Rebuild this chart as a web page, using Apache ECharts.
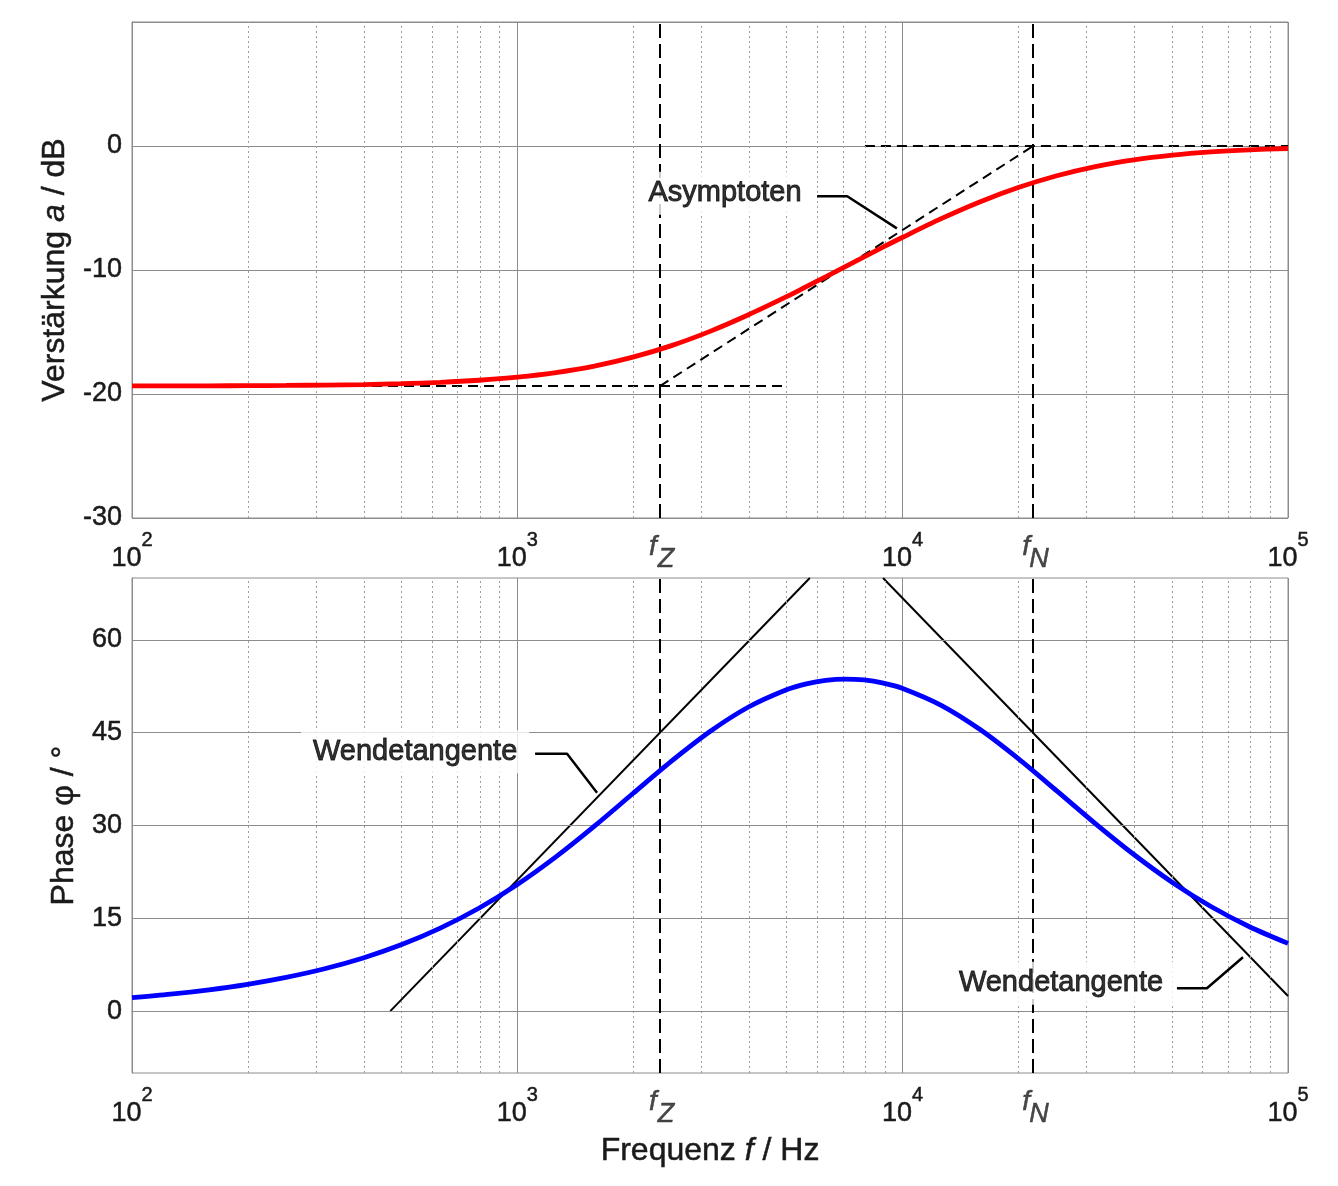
<!DOCTYPE html>
<html><head><meta charset="utf-8">
<script src="https://cdn.jsdelivr.net/npm/echarts@6/dist/echarts.min.js"></script>
<style>html,body{margin:0;padding:0;background:#fff}#c{width:1338px;height:1186px}</style>
</head><body><div id="c"></div>
<script>
// ---------- data ----------
const FREQ = [100, 125.9, 158.5, 199.5, 251.2, 316.2, 398.1, 501.2, 631.0, 794.3,
  1000, 1259, 1585, 1995, 2512, 3162, 3981, 5012, 5623, 6310, 7079, 7943, 8913,
  10000, 12589, 15849, 19953, 25119, 31623, 39811, 50119, 63096, 79433, 100000];
const GAIN_DB = [-19.35, -19.35, -19.34, -19.33, -19.31, -19.28, -19.24, -19.17, -19.06, -18.89,
  -18.64, -18.27, -17.75, -17.03, -16.10, -14.95, -13.61, -12.13, -11.34, -10.55, -9.74, -8.94, -8.14,
  -7.36, -5.86, -4.51, -3.35, -2.40, -1.66, -1.12, -0.74, -0.48, -0.31, -0.20];
const PHASE_DEG = [2.18, 2.74, 3.45, 4.34, 5.46, 6.85, 8.59, 10.75, 13.41, 16.63,
  20.47, 24.93, 29.90, 35.17, 40.40, 45.19, 49.15, 51.98, 52.89, 53.46, 53.67, 53.52, 53.00,
  52.15, 49.42, 45.54, 40.80, 35.59, 30.31, 25.31, 20.80, 16.91, 13.64, 10.95];

const F_Z = 2345;
const F_N = 21800;
const CORNER_FREQS = [F_Z, F_N];
const CORNER_NAMES = ['Z', 'N'];

const ASYM_LOW = [[100, -19.36], [5000, -19.36]];
const ASYM_SLOPE = [[2345, -19.36], [21800, 0]];
const ASYM_HIGH = [[7980, 0], [100000, 0]];

const TANGENT_RISE = [[468, 0], [5741, 70]];
const TANGENT_FALL = [[8892, 70], [100000, 2.44]];

const X_MINOR = [200, 300, 400, 500, 600, 700, 800, 900,
  2000, 3000, 4000, 5000, 6000, 7000, 8000, 9000,
  20000, 30000, 40000, 50000, 60000, 70000, 80000, 90000];
const GAIN_RANGE = [-30, 10];
const PHASE_RANGE = [-10, 70];
const PHASE_TICKS = [0, 15, 30, 45, 60];

const ANN_ASYM_TEXT = 'Asymptoten';
const ANN_ASYM_AT = [3460, -3.97];
const ANN_ASYM_LEADER = [[5998, -4.05], [7180, -4.05], [9660, -6.64]];
const ANN_TAN1_TEXT = 'Wendetangente';
const ANN_TAN1_AT = [543, 41.6];
const ANN_TAN1_LEADER = [[1112, 41.6], [1346, 41.6], [1610, 35.3]];
const ANN_TAN2_TEXT = 'Wendetangente';
const ANN_TAN2_AT = [25760, 4.19];
const ANN_TAN2_LEADER = [[51500, 3.7], [61600, 3.7], [76400, 8.7]];

// ---------- styling ----------
const FONT = '"Liberation Sans", Arial, Helvetica, sans-serif';
const TXT = '#1a1a1a';
const GRID_COL = '#8c8c8c';
const MINOR_COL = '#9e9e9e';
const HIDDEN = 'rgba(0,0,0,0)';
const BOLDEN = { textBorderColor: TXT, textBorderWidth: 0.5 };

const chart = echarts.init(document.getElementById('c'));

function txt(size, extra) {
  return Object.assign({ fontSize: size, fontFamily: FONT, color: TXT }, BOLDEN, extra || {});
}

function xAxisCfg(gridIndex, withName) {
  const cfg = {
    type: 'log', logBase: 10, gridIndex: gridIndex, min: 100, max: 100000,
    axisLine: { show: true, lineStyle: { color: GRID_COL, width: 1 } },
    axisTick: { show: false },
    splitLine: { show: true, lineStyle: { color: GRID_COL, width: 1 } },
    axisLabel: {
      show: true, margin: 12, showMinLabel: true, showMaxLabel: true,
      formatter: function (v) { return '{b|10}{s|' + Math.round(Math.log10(v)) + '}'; },
      rich: {
        b: txt(27, { lineHeight: 42, verticalAlign: 'bottom' }),
        s: txt(20, { lineHeight: 22, verticalAlign: 'top' })
      }
    }
  };
  if (withName) {
    cfg.name = 'Frequenz {i|f} / Hz';
    cfg.nameLocation = 'middle';
    cfg.nameGap = 62;
    cfg.nameTextStyle = txt(32, { rich: { i: txt(32, { fontStyle: 'italic' }) } });
  }
  return cfg;
}

const noMarkLine = { symbol: ['none', 'none'], silent: true, animation: false, label: { show: false }, emphasis: { disabled: true } };

function vLines(gridIdx, values, style, z) {
  return {
    type: 'line', xAxisIndex: gridIdx, yAxisIndex: gridIdx, data: [], z: z, silent: true,
    markLine: Object.assign({}, noMarkLine, { lineStyle: style, data: values.map(v => ({ xAxis: v })) })
  };
}

function textSeries(gridIdx, points, labelCfg, z) {
  return {
    type: 'scatter', xAxisIndex: gridIdx, yAxisIndex: gridIdx, z: z, silent: true,
    symbol: 'circle', symbolSize: 1, itemStyle: { color: HIDDEN },
    emphasis: { disabled: true },
    data: points,
    label: Object.assign({ show: true, fontFamily: FONT, color: TXT }, BOLDEN, labelCfg)
  };
}

function cornerLabels(gridIdx, yVal) {
  const pts = CORNER_FREQS.map((f, i) => ({ value: [f, yVal], name: CORNER_NAMES[i] }));
  return [
    textSeries(gridIdx, pts, { position: 'bottom', distance: 15, offset: [-7, 0], formatter: 'f', fontSize: 28, fontStyle: 'italic' }, 10),
    textSeries(gridIdx, pts, { position: 'bottom', distance: 15, offset: [6, 12], formatter: p => p.name, fontSize: 27, fontStyle: 'italic' }, 10)
  ];
}

function annotation(gridIdx, text, at, leader) {
  const common = { position: 'bottom', distance: 0, offset: [0, -24], formatter: text, fontSize: 29 };
  return [
    // white backing box
    textSeries(gridIdx, [at], Object.assign({}, common, {
      color: '#ffffff', textBorderWidth: 0, backgroundColor: '#ffffff', padding: [7, 12]
    }), 19),
    // the text itself
    textSeries(gridIdx, [at], Object.assign({}, common, {
      offset: [0, -17], color: '#000000', textBorderColor: '#000000', textBorderWidth: 0.9
    }), 20),
    {
      type: 'line', xAxisIndex: gridIdx, yAxisIndex: gridIdx, z: 21, silent: true,
      data: leader, symbol: 'none', lineStyle: { color: '#000', width: 2.5 }
    }
  ];
}

function lineSeries(gridIdx, data, color, width, type, z) {
  return {
    type: 'line', xAxisIndex: gridIdx, yAxisIndex: gridIdx, data: data, z: z, silent: true,
    symbol: 'none', lineStyle: { color: color, width: width, type: type }
  };
}

const gainData = FREQ.map((f, i) => [f, GAIN_DB[i]]);
const phaseData = FREQ.map((f, i) => [f, PHASE_DEG[i]]);

const series = [
  // top panel
  vLines(0, X_MINOR, { color: MINOR_COL, width: 1, type: [2, 3] }, 1),
  vLines(0, CORNER_FREQS, { color: '#000', width: 2, type: [14, 6] }, 3),
  lineSeries(0, ASYM_LOW, '#000', 2, [10, 6], 3),
  lineSeries(0, ASYM_SLOPE, '#000', 2, [10, 6], 3),
  lineSeries(0, ASYM_HIGH, '#000', 2, [10, 6], 3),
  Object.assign(lineSeries(0, gainData, '#ff0000', 4.8, 'solid', 5), { smooth: 0.3 }),
  ...cornerLabels(0, GAIN_RANGE[0]),
  ...annotation(0, ANN_ASYM_TEXT, ANN_ASYM_AT, ANN_ASYM_LEADER),
  // bottom panel
  vLines(1, X_MINOR, { color: MINOR_COL, width: 1, type: [2, 3] }, 1),
  {
    type: 'line', xAxisIndex: 1, yAxisIndex: 1, data: [], z: 1, silent: true,
    markLine: Object.assign({}, noMarkLine, { lineStyle: { color: GRID_COL, width: 1, type: 'solid' }, data: PHASE_TICKS.map(v => ({ yAxis: v })) })
  },
  vLines(1, CORNER_FREQS, { color: '#000', width: 2, type: [14, 6] }, 3),
  lineSeries(1, TANGENT_RISE, '#000', 2, 'solid', 4),
  lineSeries(1, TANGENT_FALL, '#000', 2, 'solid', 4),
  Object.assign(lineSeries(1, phaseData, '#0000ff', 4.8, 'solid', 5), { smooth: 0.3 }),
  ...cornerLabels(1, PHASE_RANGE[0]),
  ...annotation(1, ANN_TAN1_TEXT, ANN_TAN1_AT, ANN_TAN1_LEADER),
  ...annotation(1, ANN_TAN2_TEXT, ANN_TAN2_AT, ANN_TAN2_LEADER)
];

chart.setOption({
  animation: false,
  backgroundColor: '#ffffff',
  textStyle: { fontFamily: FONT },
  grid: [
    { left: 132, top: 22, width: 1156, height: 496, show: true, borderColor: GRID_COL, borderWidth: 1, backgroundColor: 'transparent' },
    { left: 132, top: 578, width: 1156, height: 495, show: true, borderColor: GRID_COL, borderWidth: 1, backgroundColor: 'transparent' }
  ],
  xAxis: [xAxisCfg(0, false), xAxisCfg(1, true)],
  yAxis: [{
    type: 'value', gridIndex: 0, min: GAIN_RANGE[0], max: GAIN_RANGE[1], interval: 10,
    axisLine: { show: true, lineStyle: { color: GRID_COL } },
    axisTick: { show: false },
    splitLine: { show: true, lineStyle: { color: GRID_COL, width: 1 } },
    axisLabel: txt(27, { margin: 10, formatter: v => (v === GAIN_RANGE[1] ? '' : String(v)) }),
    name: 'Verstärkung {i|a} / dB', nameLocation: 'middle', nameGap: 56,
    nameTextStyle: txt(32, { rich: { i: txt(32, { fontStyle: 'italic' }) } })
  }, {
    type: 'value', gridIndex: 1, min: PHASE_RANGE[0], max: PHASE_RANGE[1], interval: 5,
    axisLine: { show: true, lineStyle: { color: GRID_COL } },
    axisTick: { show: false },
    splitLine: { show: false },
    axisLabel: txt(27, { margin: 10, formatter: v => (PHASE_TICKS.indexOf(v) >= 0 ? String(v) : '') }),
    name: 'Phase φ / °', nameLocation: 'middle', nameGap: 48,
    nameTextStyle: txt(32)
  }],
  series: series
});
</script>
</body></html>
